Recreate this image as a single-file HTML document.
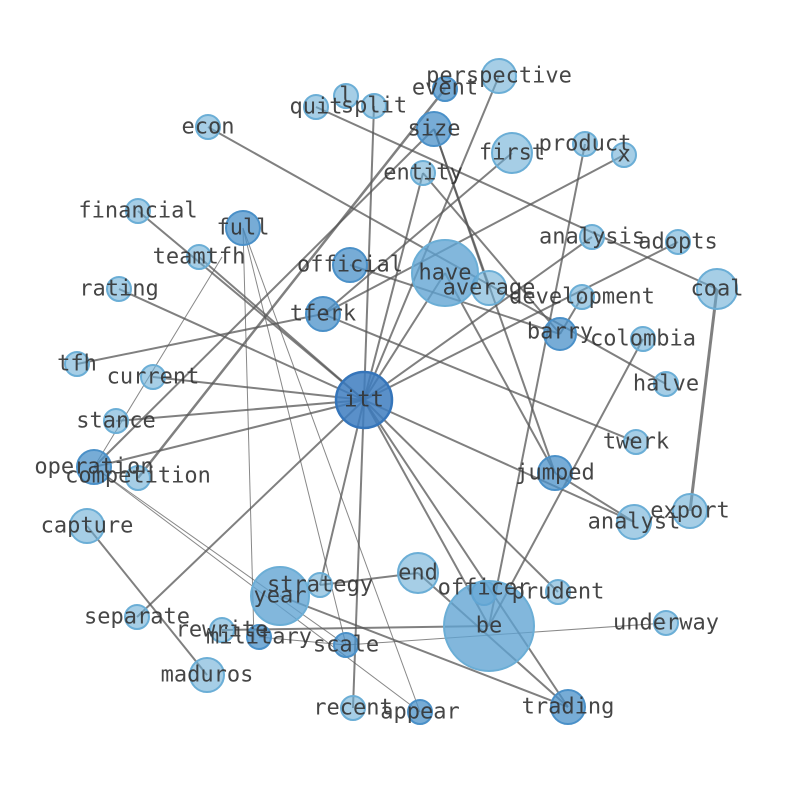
<!DOCTYPE html>
<html><head><style>html,body{margin:0;padding:0;background:#fff}svg{display:block}</style></head>
<body>
<svg width="794" height="790" xmlns="http://www.w3.org/2000/svg">
<g stroke="#555" stroke-opacity="0.75" stroke-width="2">
<line x1="364" y1="400" x2="374" y2="106"/>
<line x1="364" y1="400" x2="423" y2="173"/>
<line x1="364" y1="400" x2="445" y2="273"/>
<line x1="364" y1="400" x2="592" y2="237"/>
<line x1="364" y1="400" x2="678" y2="242"/>
<line x1="364" y1="400" x2="138" y2="211"/>
<line x1="364" y1="400" x2="119" y2="289"/>
<line x1="364" y1="400" x2="153" y2="377"/>
<line x1="364" y1="400" x2="116" y2="421"/>
<line x1="364" y1="400" x2="94" y2="467"/>
<line x1="364" y1="400" x2="137" y2="617"/>
<line x1="364" y1="400" x2="320" y2="585"/>
<line x1="364" y1="400" x2="353" y2="708"/>
<line x1="364" y1="400" x2="489" y2="626"/>
<line x1="364" y1="400" x2="568" y2="707"/>
<line x1="364" y1="400" x2="558" y2="592"/>
<line x1="364" y1="400" x2="634" y2="522"/>
<line x1="364" y1="400" x2="199" y2="257"/>
<line x1="445" y1="89" x2="138" y2="478" stroke-width="2.5"/>
<line x1="434" y1="129" x2="94" y2="467"/>
<line x1="434" y1="129" x2="489" y2="288"/>
<line x1="434" y1="129" x2="555" y2="473"/>
<line x1="423" y1="173" x2="560" y2="334"/>
<line x1="316" y1="107" x2="717" y2="289"/>
<line x1="208" y1="127" x2="666" y2="384"/>
<line x1="512" y1="153" x2="323" y2="314"/>
<line x1="624" y1="155" x2="323" y2="314"/>
<line x1="323" y1="314" x2="77" y2="364"/>
<line x1="323" y1="314" x2="636" y2="442"/>
<line x1="350" y1="265" x2="560" y2="334"/>
<line x1="499" y1="76" x2="364" y2="400"/>
<line x1="585" y1="144" x2="489" y2="626"/>
<line x1="643" y1="339" x2="489" y2="626"/>
<line x1="582" y1="297" x2="560" y2="334"/>
<line x1="445" y1="273" x2="555" y2="473"/>
<line x1="717" y1="289" x2="690" y2="511" stroke-width="3"/>
<line x1="87" y1="526" x2="207" y2="675"/>
<line x1="280" y1="596" x2="568" y2="707"/>
<line x1="222" y1="630" x2="489" y2="626"/>
<line x1="418" y1="573" x2="320" y2="585"/>
<line x1="418" y1="573" x2="568" y2="707"/>
<line x1="555" y1="473" x2="634" y2="522"/>
</g>
<g stroke="#555" stroke-opacity="0.7" stroke-width="1">
<line x1="243" y1="228" x2="420" y2="712"/>
<line x1="243" y1="228" x2="346" y2="645"/>
<line x1="243" y1="228" x2="254" y2="640"/>
<line x1="94" y1="467" x2="346" y2="645"/>
<line x1="94" y1="467" x2="420" y2="712"/>
<line x1="94" y1="467" x2="222" y2="257"/>
<line x1="346" y1="645" x2="666" y2="623"/>
<line x1="259" y1="637" x2="346" y2="645"/>
</g>
<g fill="#6baed6" fill-opacity="0.6" stroke="#6baed6" stroke-width="2">
<circle cx="418" cy="573" r="20"/>
<circle cx="512" cy="153" r="20"/>
<circle cx="717" cy="289" r="20"/>
<circle cx="690" cy="511" r="17"/>
<circle cx="634" cy="522" r="17"/>
<circle cx="489" cy="288" r="17"/>
<circle cx="207" cy="675" r="17"/>
<circle cx="87" cy="526" r="17"/>
<circle cx="499" cy="76" r="17"/>
<circle cx="484" cy="593" r="12"/>
<circle cx="320" cy="585" r="12"/>
<circle cx="222" cy="630" r="12"/>
<circle cx="137" cy="617" r="12"/>
<circle cx="353" cy="708" r="12"/>
<circle cx="666" cy="623" r="12"/>
<circle cx="558" cy="592" r="12"/>
<circle cx="636" cy="442" r="12"/>
<circle cx="666" cy="384" r="12"/>
<circle cx="643" cy="339" r="12"/>
<circle cx="582" cy="297" r="12"/>
<circle cx="592" cy="237" r="12"/>
<circle cx="678" cy="242" r="12"/>
<circle cx="585" cy="144" r="12"/>
<circle cx="624" cy="155" r="12"/>
<circle cx="423" cy="173" r="12"/>
<circle cx="346" cy="96" r="12"/>
<circle cx="374" cy="106" r="12"/>
<circle cx="316" cy="107" r="12"/>
<circle cx="208" cy="127" r="12"/>
<circle cx="138" cy="211" r="12"/>
<circle cx="199" cy="257" r="12"/>
<circle cx="119" cy="289" r="12"/>
<circle cx="77" cy="364" r="12"/>
<circle cx="153" cy="377" r="12"/>
<circle cx="116" cy="421" r="12"/>
<circle cx="138" cy="478" r="12"/>
</g>
<g fill="#5fa3d2" fill-opacity="0.78" stroke="#6baed6" stroke-width="2">
<circle cx="489" cy="626" r="45"/>
<circle cx="445" cy="273" r="33"/>
<circle cx="280" cy="596" r="29"/>
</g>
<g fill="#4a90c8" fill-opacity="0.75" stroke="#4a90c8" stroke-width="2">
<circle cx="555" cy="473" r="17"/>
<circle cx="560" cy="334" r="16"/>
<circle cx="350" cy="265" r="17"/>
<circle cx="323" cy="314" r="17"/>
<circle cx="243" cy="228" r="17"/>
<circle cx="434" cy="129" r="17"/>
<circle cx="568" cy="707" r="17"/>
<circle cx="94" cy="467" r="17"/>
<circle cx="445" cy="89" r="12"/>
<circle cx="259" cy="637" r="12"/>
<circle cx="346" cy="645" r="12"/>
<circle cx="420" cy="712" r="12"/>
</g>
<circle cx="364" cy="400" r="28" fill="#3d7cbf" fill-opacity="0.85" stroke="#3575ba" stroke-width="2.5"/>
<g font-family="'DejaVu Sans Mono','Liberation Mono',monospace" font-size="22" fill="#333" text-anchor="middle" dominant-baseline="central" opacity="0.9">
<text x="364" y="400">itt</text><text x="489" y="626">be</text><text x="445" y="273">have</text>
<text x="280" y="596">year</text><text x="418" y="573">end</text><text x="512" y="153">first</text>
<text x="717" y="289">coal</text><text x="690" y="511">export</text><text x="634" y="522">analyst</text>
<text x="489" y="288">average</text><text x="207" y="675">maduros</text><text x="87" y="526">capture</text>
<text x="499" y="76">perspective</text><text x="484" y="588">officer</text><text x="320" y="585">strategy</text>
<text x="222" y="630">rewrite</text><text x="137" y="617">separate</text><text x="353" y="708">recent</text>
<text x="666" y="623">underway</text><text x="558" y="592">prudent</text><text x="636" y="442">twerk</text>
<text x="666" y="384">halve</text><text x="643" y="339">colombia</text><text x="582" y="297">development</text>
<text x="592" y="237">analysis</text><text x="678" y="242">adopts</text><text x="585" y="144">product</text>
<text x="624" y="155">x</text><text x="423" y="173">entity</text><text x="346" y="96">l</text>
<text x="374" y="106">split</text><text x="316" y="107">quit</text><text x="208" y="127">econ</text>
<text x="138" y="211">financial</text><text x="199" y="257">teamtfh</text><text x="119" y="289">rating</text>
<text x="77" y="364">tfh</text><text x="153" y="377">current</text><text x="116" y="421">stance</text>
<text x="138" y="476">competition</text><text x="555" y="473">jumped</text><text x="560" y="332">barry</text>
<text x="350" y="265">official</text><text x="323" y="314">tferk</text><text x="243" y="228">full</text>
<text x="434" y="129">size</text><text x="568" y="707">trading</text><text x="94" y="467">operation</text>
<text x="445" y="88">event</text><text x="259" y="637">military</text><text x="346" y="645">scale</text>
<text x="420" y="712">appear</text>
</g>
</svg>
</body></html>
